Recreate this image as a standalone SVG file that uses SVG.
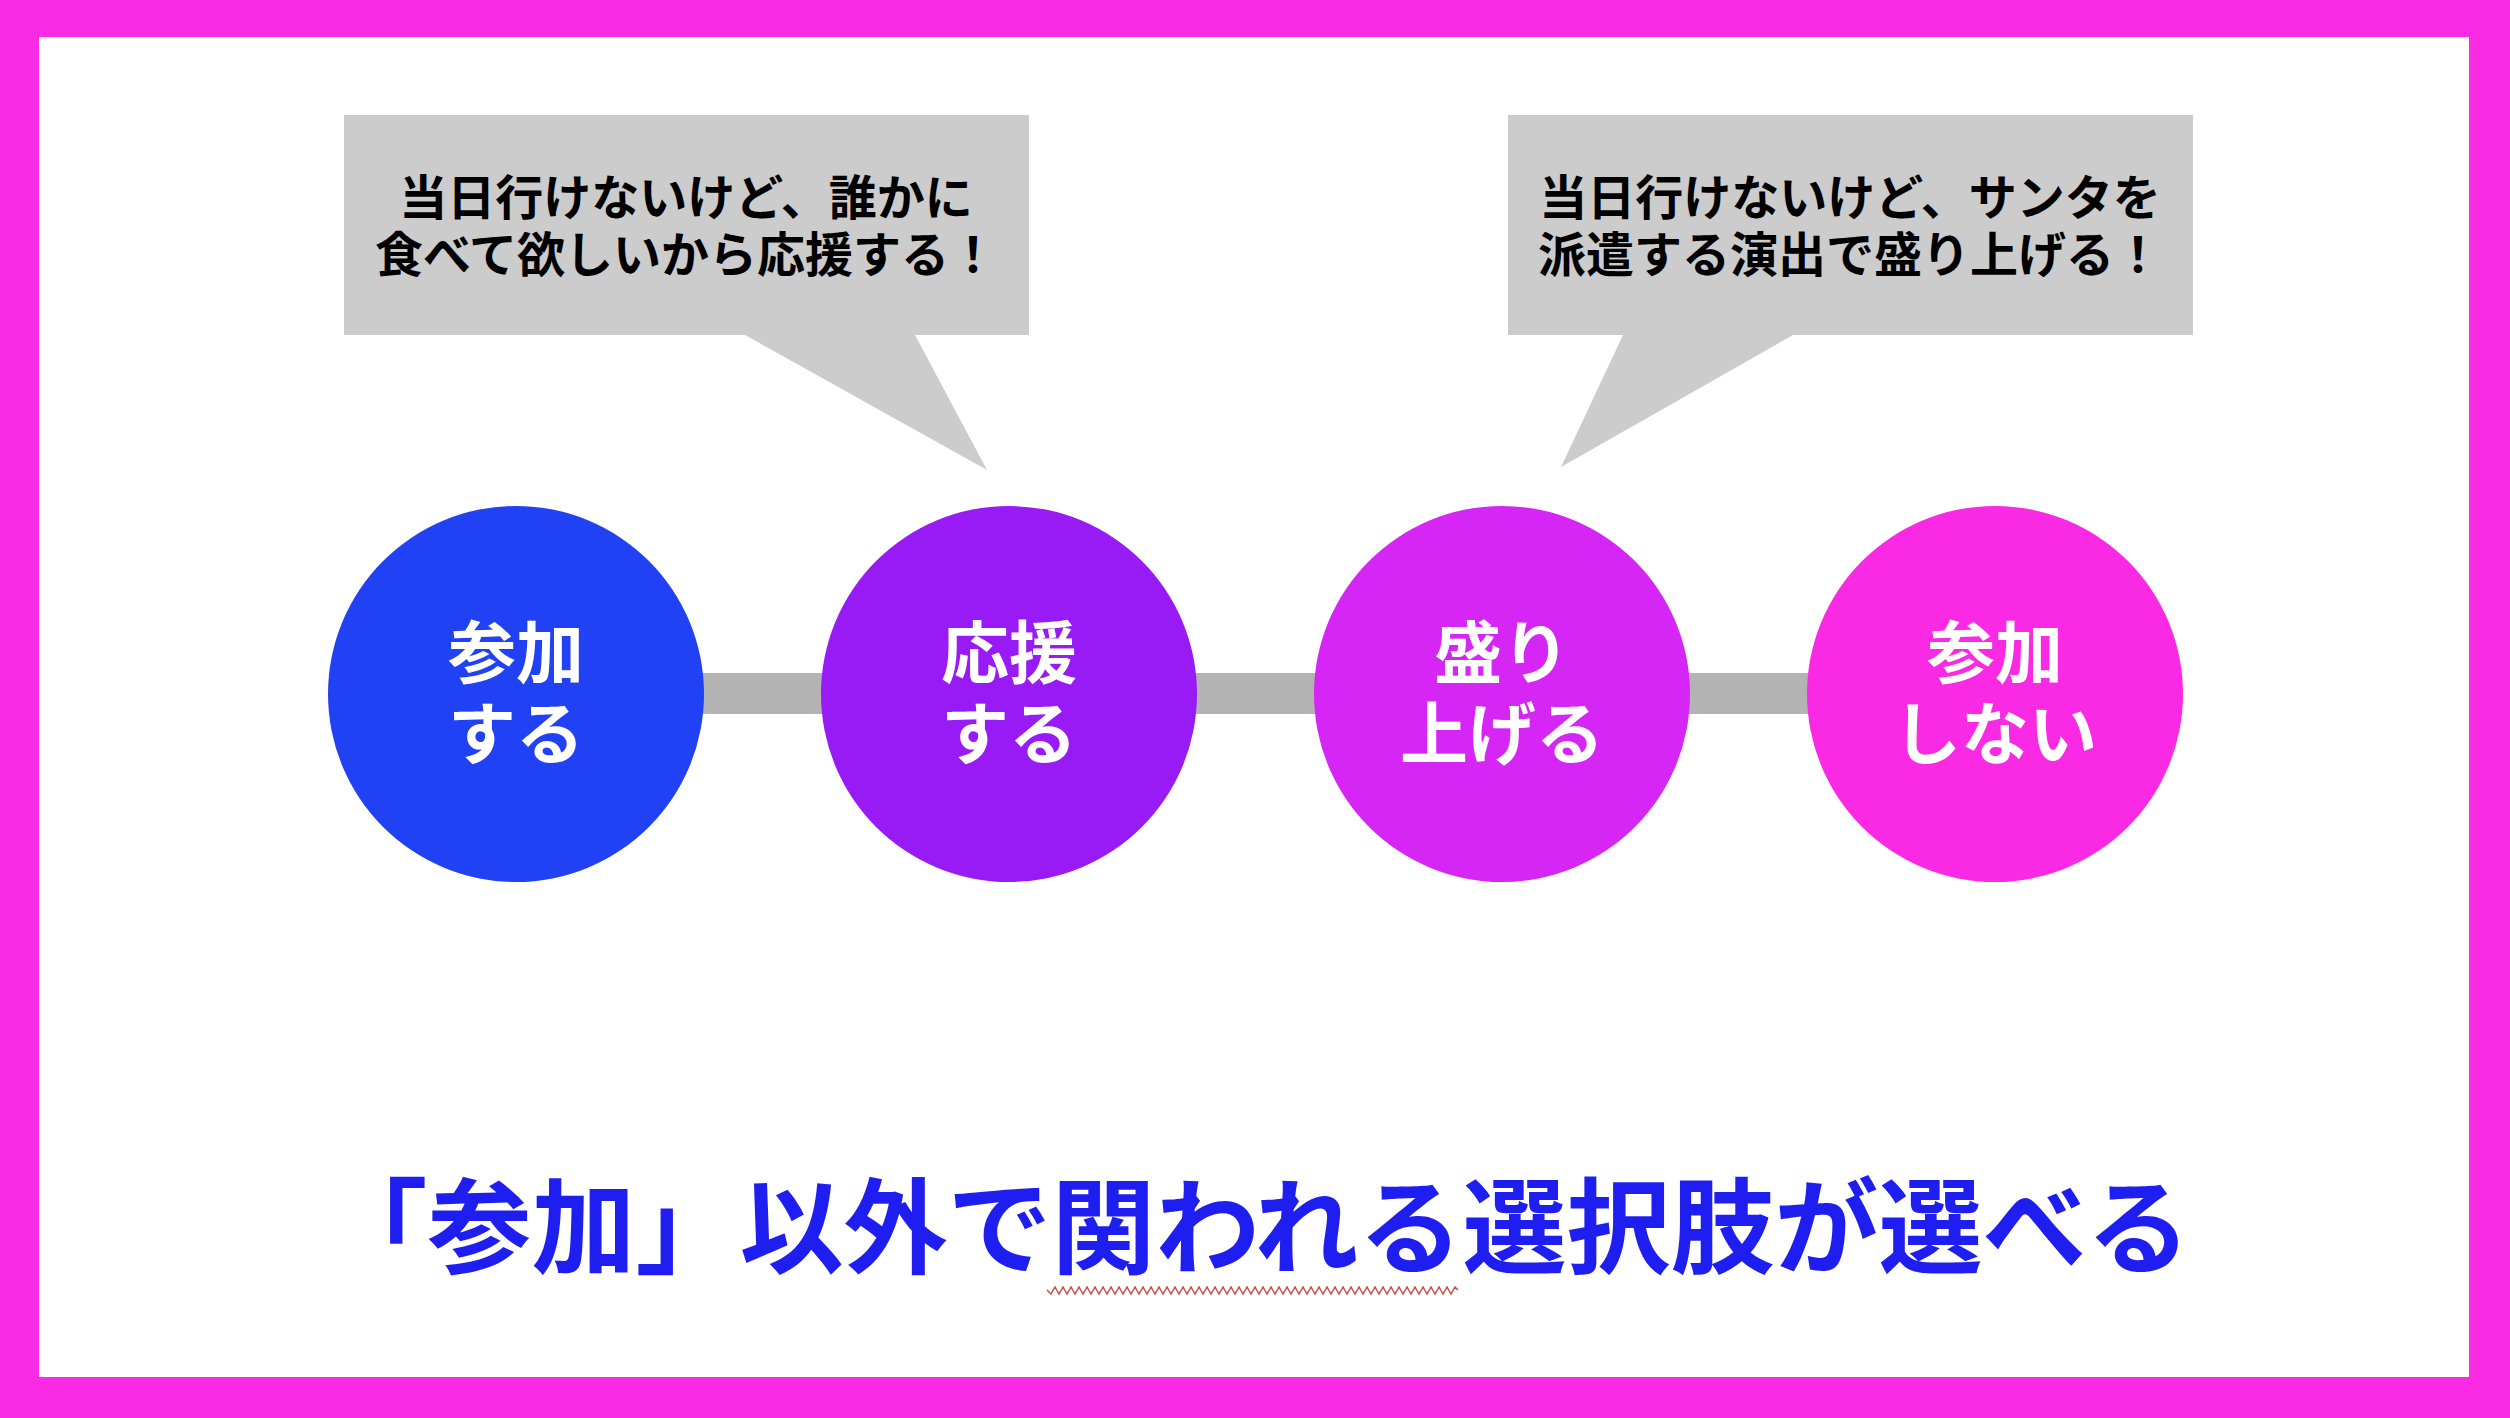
<svg xmlns="http://www.w3.org/2000/svg" width="2510" height="1418" viewBox="0 0 2510 1418">
  <style>
    .callout { fill: #CCCCCC; }
    .ctext { font-family: "Noto Sans CJK JP", "Noto Sans CJK SC", sans-serif; font-weight: bold; font-size: 48px; fill: #000000; text-anchor: middle; }
    .ntext { font-family: "Noto Sans CJK JP", "Noto Sans CJK SC", sans-serif; font-weight: bold; font-size: 68px; fill: #FFFFFF; text-anchor: middle; }
    .title { font-family: "Noto Sans CJK JP", "Noto Sans CJK SC", sans-serif; font-weight: bold; font-size: 104px; fill: #1E1EF0; text-anchor: middle; }
    .bar { stroke: #B3B3B3; stroke-width: 41; fill: none; }
  </style>
  <rect x="0" y="0" width="2510" height="1418" fill="#FB2AE4"/>
  <rect x="39" y="37" width="2430" height="1340" fill="#FFFFFF"/>

  <g id="callout-1">
    <path class="callout" d="M344,115 H1029 V335 H915 L987,470 L745,335 H344 Z"/>
    <text class="ctext"><tspan x="686" y="215">当日行けないけど、誰かに</tspan><tspan x="686" y="272">食べて欲しいから応援する！</tspan></text>
  </g>
  <g id="callout-2">
    <path class="callout" d="M1508,115 H2193 V335 H1793 L1561,467 L1623,335 H1508 Z"/>
    <text class="ctext"><tspan x="1850" y="215">当日行けないけど、サンタを</tspan><tspan x="1850" y="272">派遣する演出で盛り上げる！</tspan></text>
  </g>

  <g id="connectors">
    <line class="bar" x1="600" y1="693.5" x2="930" y2="693.5"/>
    <line class="bar" x1="1100" y1="693.5" x2="1420" y2="693.5"/>
    <line class="bar" x1="1600" y1="693.5" x2="1900" y2="693.5"/>
  </g>

  <g id="node-sanka-suru">
    <circle cx="516" cy="694" r="188" fill="#2141F5"/>
    <text class="ntext"><tspan x="516" y="678">参加</tspan><tspan x="516" y="759">する</tspan></text>
  </g>
  <g id="node-ouen-suru">
    <circle cx="1009" cy="694" r="188" fill="#981BF5"/>
    <text class="ntext"><tspan x="1009" y="678">応援</tspan><tspan x="1009" y="759">する</tspan></text>
  </g>
  <g id="node-moriageru">
    <circle cx="1502" cy="694" r="188" fill="#D526F5"/>
    <text class="ntext"><tspan x="1502" y="678">盛り</tspan><tspan x="1502" y="759">上げる</tspan></text>
  </g>
  <g id="node-sanka-shinai">
    <circle cx="1995" cy="694" r="188" fill="#FA2AE4"/>
    <text class="ntext"><tspan x="1995" y="678">参加</tspan><tspan x="1995" y="759">しない</tspan></text>
  </g>

  <g id="title">
    <text class="title" x="1257" y="1266">「参加」以外で関われる選択肢が選べる</text>
    <polyline fill="none" stroke="#C8504A" stroke-width="1.5" points="1047,1290 1051,1294 1055,1287 1059,1294 1063,1287 1067,1294 1071,1287 1075,1294 1079,1287 1083,1294 1087,1287 1091,1294 1095,1287 1099,1294 1103,1287 1107,1294 1111,1287 1115,1294 1119,1287 1123,1294 1127,1287 1131,1294 1135,1287 1139,1294 1143,1287 1147,1294 1151,1287 1155,1294 1159,1287 1163,1294 1167,1287 1171,1294 1175,1287 1179,1294 1183,1287 1187,1294 1191,1287 1195,1294 1199,1287 1203,1294 1207,1287 1211,1294 1215,1287 1219,1294 1223,1287 1227,1294 1231,1287 1235,1294 1239,1287 1243,1294 1247,1287 1251,1294 1255,1287 1259,1294 1263,1287 1267,1294 1271,1287 1275,1294 1279,1287 1283,1294 1287,1287 1291,1294 1295,1287 1299,1294 1303,1287 1307,1294 1311,1287 1315,1294 1319,1287 1323,1294 1327,1287 1331,1294 1335,1287 1339,1294 1343,1287 1347,1294 1351,1287 1355,1294 1359,1287 1363,1294 1367,1287 1371,1294 1375,1287 1379,1294 1383,1287 1387,1294 1391,1287 1395,1294 1399,1287 1403,1294 1407,1287 1411,1294 1415,1287 1419,1294 1423,1287 1427,1294 1431,1287 1435,1294 1439,1287 1443,1294 1447,1287 1451,1294 1455,1287 1458,1290"/>
  </g>
</svg>
